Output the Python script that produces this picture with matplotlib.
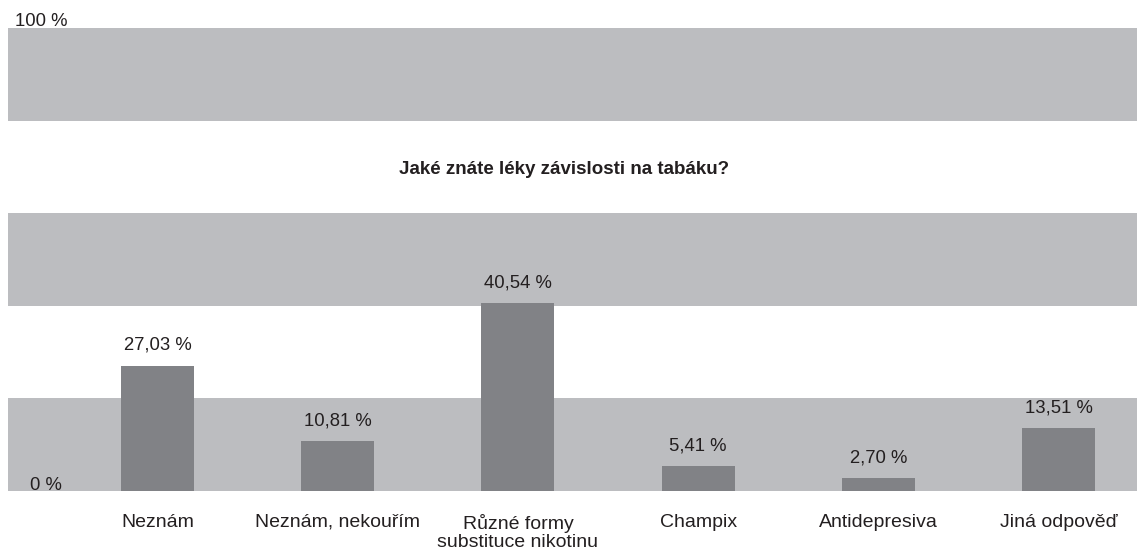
import matplotlib
matplotlib.use("Agg")
import matplotlib.pyplot as plt

categories = ["Neznám", "Neznám, nekouřím", "Různé formy\nsubstituce nikotinu",
              "Champix", "Antidepresiva", "Jiná odpověď"]
values = [27.03, 10.81, 40.54, 5.41, 2.70, 13.51]
value_labels = ["27,03 %", "10,81 %", "40,54 %", "5,41 %", "2,70 %", "13,51 %"]
title = "Jaké znáte léky závislosti na tabáku?"

plt.rcParams['font.family'] = ['Liberation Sans', 'DejaVu Sans']
W, H = 1137, 550
fig = plt.figure(figsize=(W / 100, H / 100), dpi=100)
fig.patch.set_facecolor("white")

left_px, right_px, top_px, bot_px = 8, 1137, 28, 490.7
ax = fig.add_axes([left_px / W, (H - bot_px) / H, (right_px - left_px) / W, (bot_px - top_px) / H])
band = "#bcbdc0"
barc = "#818286"
txt = "#231f20"

for lo in (0, 40, 80):
    ax.axhspan(lo, lo + 20, color=band, lw=0, zorder=0)

x = list(range(len(categories)))
bars = ax.bar(x, values, width=0.405, color=barc, zorder=2)
for xi, v, lab in zip(x, values, value_labels):
    ax.annotate(lab, (xi, v), xytext=(0, 14.5), textcoords="offset points",
                ha="center", va="center", fontsize=13.3, color=txt)

ax.set_xlim(-0.83, 5.436)
ax.set_ylim(0, 100)
ax.set_xticks(x)
ax.set_xticklabels(categories, fontsize=14, color=txt, linespacing=1.12, va="top")
ax.tick_params(axis="x", length=0, pad=16.5)
ax.set_yticks([])
for s in ax.spines.values():
    s.set_visible(False)
ax.patch.set_alpha(0)

fig.text(15 / W, 1 - 21 / H, "100 %", fontsize=13.3, color=txt, ha="left", va="center")
fig.text(30 / W, 1 - 486 / H, "0 %", fontsize=13.3, color=txt, ha="left", va="center")
fig.text(564.5 / W, 1 - 169 / H, title, fontsize=13.5, fontweight="bold", color=txt,
         ha="center", va="center")

fig.savefig("out.png", dpi=100)
